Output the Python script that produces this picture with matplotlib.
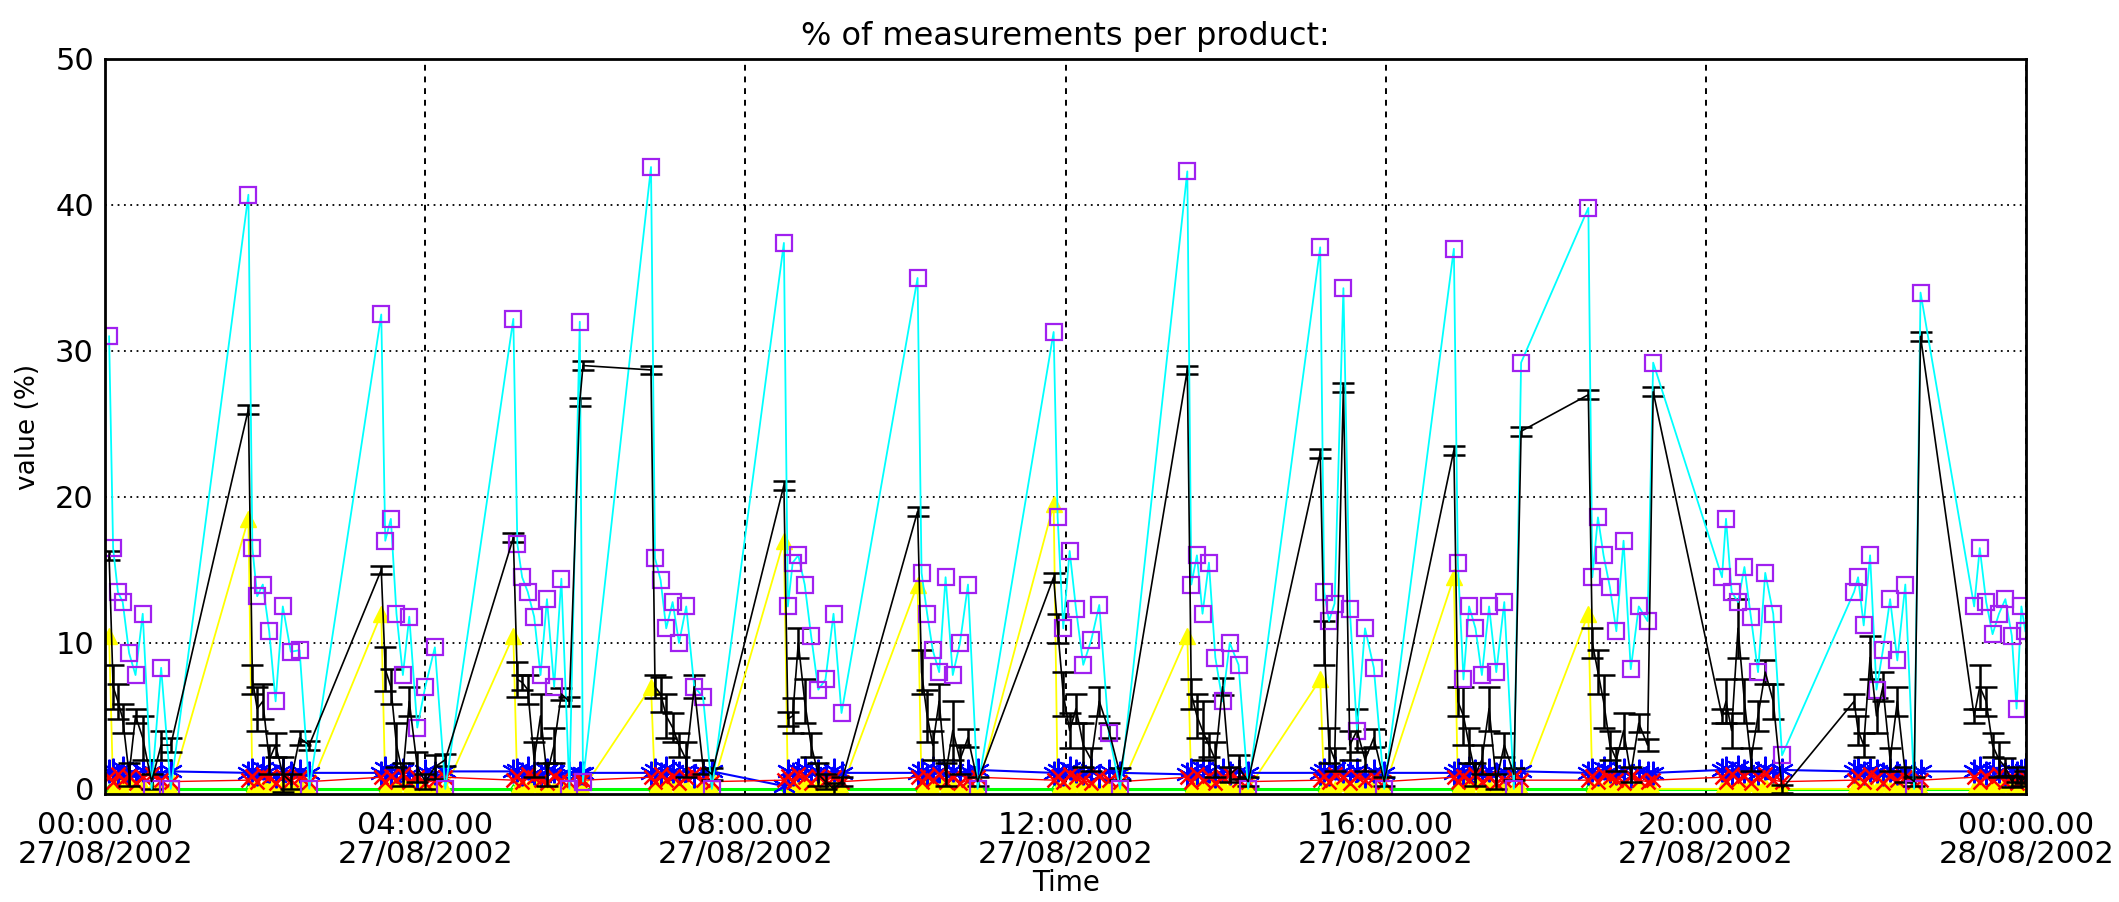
import matplotlib.pyplot as plt

# measurement times (hours after 00:00 27/08/2002), one burst of samples roughly every 100 min
hours = [
    0.05, 0.10, 0.16, 0.22, 0.30, 0.38, 0.47, 0.58, 0.70, 0.82,
    1.79, 1.84, 1.90, 1.97, 2.05, 2.13, 2.22, 2.32, 2.43, 2.55,
    3.45, 3.50, 3.57, 3.64, 3.72, 3.80, 3.90, 4.00, 4.12, 4.25,
    5.10, 5.15, 5.21, 5.28, 5.36, 5.44, 5.52, 5.61, 5.70, 5.80, 5.93, 5.97,
    6.82, 6.87, 6.94, 7.01, 7.09, 7.17, 7.26, 7.36, 7.47, 7.58,
    8.48, 8.53, 8.59, 8.66, 8.74, 8.82, 8.91, 9.00, 9.10, 9.20,
    10.15, 10.20, 10.27, 10.34, 10.42, 10.50, 10.59, 10.68, 10.78, 10.90,
    11.85, 11.90, 11.97, 12.05, 12.13, 12.22, 12.32, 12.42, 12.54, 12.68,
    13.52, 13.57, 13.64, 13.71, 13.79, 13.87, 13.96, 14.05, 14.16, 14.28,
    15.18, 15.23, 15.29, 15.36, 15.47, 15.55, 15.64, 15.74, 15.85, 15.98,
    16.85, 16.90, 16.97, 17.04, 17.12, 17.20, 17.29, 17.38, 17.48, 17.60, 17.69,
    18.53, 18.58, 18.65, 18.72, 18.80, 18.88, 18.97, 19.06, 19.16, 19.27, 19.34,
    20.20, 20.25, 20.32, 20.40, 20.48, 20.56, 20.65, 20.74, 20.84, 20.95,
    21.85, 21.90, 21.97, 22.05, 22.13, 22.21, 22.30, 22.39, 22.49, 22.60, 22.68,
    23.35, 23.42, 23.50, 23.58, 23.66, 23.74, 23.82, 23.88, 23.94, 23.99,
]

cyan = [
    31.0, 16.5, 13.5, 12.8, 9.3, 7.8, 12.0, 0.0, 8.3, 0.0,
    40.7, 16.5, 13.2, 14.0, 10.8, 6.0, 12.5, 9.4, 9.5, 0.0,
    32.5, 17.0, 18.5, 12.0, 7.8, 11.8, 4.2, 7.0, 9.7, 0.0,
    32.2, 16.8, 14.5, 13.5, 11.8, 7.8, 13.0, 7.0, 14.4, 0.0, 32.0, 0.5,
    42.6, 15.8, 14.3, 11.0, 12.8, 10.0, 12.5, 7.0, 6.3, 0.0,
    37.4, 12.5, 15.5, 16.0, 14.0, 10.5, 6.8, 7.5, 12.0, 5.2,
    35.0, 14.8, 12.0, 9.5, 8.0, 14.5, 7.8, 10.0, 14.0, 0.0,
    31.3, 18.6, 11.0, 16.3, 12.3, 8.5, 10.2, 12.6, 3.8, 0.0,
    42.3, 14.0, 16.0, 12.0, 15.5, 9.0, 6.0, 10.0, 8.5, 0.0,
    37.1, 13.5, 11.5, 12.7, 34.3, 12.3, 4.0, 11.0, 8.3, 0.0,
    37.0, 15.5, 7.5, 12.5, 11.0, 7.8, 12.5, 8.0, 12.8, 0.0, 29.2,
    39.8, 14.5, 18.6, 16.0, 13.8, 10.8, 17.0, 8.2, 12.5, 11.5, 29.2,
    14.5, 18.5, 13.5, 12.8, 15.2, 11.8, 8.0, 14.8, 12.0, 2.3,
    13.5, 14.5, 11.2, 16.0, 6.8, 9.5, 13.0, 8.8, 14.0, 0.0, 34.0,
    12.5, 16.5, 12.8, 10.6, 12.0, 13.0, 10.5, 5.5, 12.5, 10.8,
]

black = [
    16.0, 7.0, 6.0, 4.8, 1.0, 5.0, 3.5, 0.5, 3.0, 3.0,
    26.0, 7.5, 5.5, 6.0, 2.0, 3.0, 1.0, 0.5, 3.5, 3.0,
    15.0, 8.2, 7.0, 3.0, 1.0, 6.0, 1.5, 0.5, 1.5, 2.0,
    17.2, 7.5, 7.3, 6.8, 2.0, 5.0, 1.0, 3.0, 6.5, 6.0, 26.5, 29.0,
    28.7, 7.0, 6.5, 5.0, 4.2, 3.0, 2.0, 7.0, 1.5, 1.0,
    20.8, 4.8, 5.0, 10.0, 6.0, 3.0, 1.0, 0.5, 0.0, 0.5,
    19.0, 8.0, 5.0, 3.0, 6.0, 1.0, 4.0, 2.0, 3.5, 0.5,
    14.5, 11.0, 6.5, 4.0, 5.5, 3.0, 2.0, 6.0, 4.0, 1.0,
    28.7, 6.5, 5.0, 4.0, 3.0, 2.0, 7.0, 1.0, 1.5, 0.5,
    23.0, 10.0, 3.0, 2.0, 27.5, 3.0, 4.0, 2.0, 3.5, 0.5,
    23.2, 6.0, 5.0, 3.0, 1.0, 2.0, 5.5, 0.5, 3.0, 1.0, 24.5,
    27.0, 10.0, 8.0, 6.0, 3.0, 2.0, 4.0, 1.0, 4.5, 3.0, 27.2,
    5.0, 6.0, 4.0, 11.0, 6.0, 2.0, 5.0, 8.0, 6.0, 0.0,
    6.0, 4.0, 3.0, 9.0, 5.0, 7.0, 2.0, 6.0, 1.0, 0.5, 31.0,
    5.0, 7.0, 6.0, 3.0, 2.0, 1.5, 0.5, 1.0, 0.5, 0.8,
]

black_err = [
    0.3, 1.5, 1.2, 1.0, 0.8, 0.5, 1.5, 0.5, 1.0, 0.5,
    0.3, 1.0, 1.5, 1.2, 1.0, 0.8, 1.2, 0.5, 0.5, 0.3,
    0.3, 1.5, 1.2, 1.5, 0.8, 1.0, 1.0, 0.5, 0.8, 0.4,
    0.3, 1.2, 0.5, 1.0, 1.2, 1.5, 0.8, 1.2, 0.4, 0.3, 0.3, 0.3,
    0.3, 0.8, 1.2, 1.5, 1.0, 0.8, 1.2, 0.8, 0.5, 0.4,
    0.3, 0.5, 1.2, 1.0, 1.5, 0.8, 0.8, 0.5, 0.4, 0.3,
    0.3, 1.5, 1.8, 1.0, 1.2, 0.8, 2.0, 1.0, 0.6, 0.3,
    0.3, 1.0, 1.5, 1.2, 1.0, 1.5, 0.8, 1.0, 0.5, 0.4,
    0.3, 1.0, 1.5, 2.0, 0.8, 1.2, 0.6, 0.5, 0.8, 0.3,
    0.3, 1.5, 1.2, 0.8, 0.3, 1.0, 1.5, 0.8, 0.6, 0.3,
    0.3, 1.0, 2.0, 1.2, 0.8, 1.0, 1.5, 0.5, 0.8, 0.4, 0.3,
    0.3, 1.0, 1.5, 1.8, 1.0, 0.8, 1.2, 0.5, 0.6, 0.4, 0.3,
    0.5, 1.5, 1.2, 2.0, 1.5, 0.8, 1.0, 0.8, 1.2, 0.3,
    0.5, 1.0, 0.8, 1.5, 1.2, 1.0, 0.8, 1.0, 0.5, 0.3, 0.3,
    0.5, 1.5, 1.0, 0.8, 1.2, 0.6, 0.4, 0.5, 0.3, 0.4,
]

yellow = [
    10.5, 0.0, 0.3, 0.0, 0.5, 0.0, 0.2, 0.0, 0.3, 0.0,
    18.5, 0.0, 0.3, 0.0, 0.4, 0.0, 0.2, 0.0, 0.3, 0.0,
    12.0, 0.0, 0.2, 0.0, 0.5, 0.0, 0.3, 0.0, 0.2, 0.0,
    10.5, 0.0, 0.3, 0.0, 0.4, 0.0, 0.2, 0.0, 0.3, 0.0, 0.0, 0.0,
    7.0, 0.0, 0.3, 0.0, 0.5, 0.0, 0.2, 0.0, 0.3, 0.0,
    17.0, 0.0, 0.2, 0.0, 0.4, 0.0, 0.3, 0.0, 0.2, 0.0,
    14.0, 0.0, 0.3, 0.0, 0.5, 0.0, 0.2, 0.0, 0.3, 0.0,
    19.5, 0.0, 0.2, 0.0, 0.4, 0.0, 0.3, 0.0, 0.2, 0.0,
    10.5, 0.0, 0.3, 0.0, 0.5, 0.0, 0.2, 0.0, 0.3, 0.0,
    7.5, 0.0, 0.2, 0.0, 0.4, 0.0, 0.3, 0.0, 0.2, 0.0,
    14.5, 0.0, 0.3, 0.0, 0.5, 0.0, 0.2, 0.0, 0.3, 0.0, 0.0,
    12.0, 0.0, 0.2, 0.0, 0.4, 0.0, 0.3, 0.0, 0.2, 0.0, 0.0,
    0.0, 0.3, 0.0, 0.2, 0.0, 0.4, 0.0, 0.3, 0.0, 0.0,
    0.0, 0.3, 0.0, 0.2, 0.0, 0.4, 0.0, 0.3, 0.0, 0.0, 0.0,
    0.0, 0.3, 0.0, 0.2, 0.0, 0.4, 0.0, 0.3, 0.0, 0.2,
]

blue = [
    1.2, 1.3, 0.9, 1.4, 1.1, 1.0, 1.3, 1.2, 1.1, 1.2,
    1.1, 1.3, 1.0, 1.4, 1.2, 0.9, 1.3, 1.1, 1.2, 1.1,
    1.1, 1.4, 0.9, 1.2, 1.3, 1.0, 0.8, 1.2, 1.1, 1.2,
    1.2, 1.3, 1.0, 1.4, 1.1, 0.9, 1.3, 1.2, 1.0, 1.1, 1.1, 1.1,
    1.1, 1.3, 1.0, 1.4, 1.2, 1.1, 1.3, 0.9, 1.2, 1.2,
    0.2, 1.2, 1.0, 1.3, 1.4, 1.1, 1.2, 1.0, 1.3, 1.1,
    1.1, 1.3, 0.9, 1.4, 1.2, 1.0, 1.3, 1.1, 1.2, 1.3,
    1.1, 1.3, 1.0, 1.4, 1.2, 1.1, 1.3, 0.9, 1.2, 1.1,
    1.0, 1.3, 1.1, 1.4, 1.2, 0.9, 1.3, 1.1, 1.2, 1.1,
    1.1, 1.3, 1.0, 1.4, 1.2, 1.1, 1.3, 0.9, 1.2, 1.1,
    1.1, 1.3, 0.9, 1.4, 1.2, 1.1, 1.3, 1.0, 1.2, 1.1, 1.2,
    1.1, 1.3, 1.0, 1.4, 1.2, 1.1, 1.3, 0.9, 1.2, 1.1, 1.1,
    1.3, 1.4, 1.1, 1.5, 1.2, 1.3, 1.1, 1.4, 1.2, 1.3,
    1.2, 1.4, 1.1, 1.3, 1.2, 1.0, 1.3, 1.1, 1.2, 1.1, 1.2,
    1.2, 1.4, 1.1, 1.3, 1.2, 1.0, 1.3, 1.1, 1.2, 1.3,
]

red = [
    0.8, 0.5, 1.0, 0.6, 0.9, 0.4, 0.8, 1.0, 0.6, 0.5,
    0.6, 0.9, 0.5, 1.0, 0.8, 0.4, 0.9, 0.6, 0.8, 0.5,
    0.8, 0.5, 0.9, 0.6, 1.0, 0.5, 0.8, 0.4, 0.6, 0.8,
    0.6, 0.9, 0.5, 1.0, 0.8, 0.6, 0.4, 0.9, 0.6, 0.5, 0.6, 0.6,
    0.8, 0.5, 1.0, 0.6, 0.9, 0.4, 0.8, 1.0, 0.6, 0.5,
    0.6, 0.9, 0.5, 1.0, 0.8, 0.4, 0.9, 0.6, 0.8, 0.5,
    0.8, 0.5, 0.9, 0.6, 1.0, 0.5, 0.8, 0.4, 0.6, 0.8,
    0.6, 0.9, 0.5, 1.0, 0.8, 0.6, 0.4, 0.9, 0.6, 0.5,
    0.8, 0.5, 1.0, 0.6, 0.9, 0.4, 0.8, 1.0, 0.6, 0.5,
    0.6, 0.9, 0.5, 1.0, 0.8, 0.4, 0.9, 0.6, 0.8, 0.5,
    0.8, 0.5, 0.9, 0.6, 1.0, 0.5, 0.8, 0.4, 0.6, 0.8, 0.6,
    0.6, 0.9, 0.5, 1.0, 0.8, 0.6, 0.4, 0.9, 0.6, 0.5, 0.6,
    0.8, 0.5, 1.0, 0.6, 0.9, 0.4, 0.8, 1.0, 0.6, 0.5,
    0.6, 0.9, 0.5, 1.0, 0.8, 0.4, 0.9, 0.6, 0.8, 0.5, 0.6,
    0.8, 0.5, 0.9, 0.6, 1.0, 0.5, 0.8, 0.4, 0.6, 0.8,
]

# product that stays at 0 % all day (burst starts / ends only)
green_hours = [0.05, 0.82, 1.79, 2.55, 3.45, 4.25, 5.10, 5.97, 6.82, 7.58,
               8.48, 9.20, 10.15, 10.90, 11.85, 12.68, 13.52, 14.28, 15.18, 15.98,
               16.85, 17.69, 18.53, 19.34, 20.20, 20.95, 21.85, 22.68, 23.35, 23.99]
green = [0.0, 0.0, 0.0, 0.0, 0.0, 0.0, 0.0, 0.0, 0.0, 0.0,
         0.0, 0.0, 0.0, 0.0, 0.0, 0.0, 0.0, 0.0, 0.0, 0.0,
         0.0, 0.0, 0.0, 0.0, 0.0, 0.0, 0.0, 0.0, 0.0, 0.0]

tick_hours = [0, 4, 8, 12, 16, 20, 24]
tick_labels = ['00:00.00\n27/08/2002', '04:00.00\n27/08/2002', '08:00.00\n27/08/2002',
               '12:00.00\n27/08/2002', '16:00.00\n27/08/2002', '20:00.00\n27/08/2002',
               '00:00.00\n28/08/2002']

fig = plt.figure(figsize=(21.19, 9.02), dpi=100)
ax = fig.add_axes([0.0496, 0.1197, 0.9066, 0.8149])

ax.plot(green_hours, green, color='#00ff00', lw=2.2, marker='d', ms=5, mfc='none')
ax.plot(hours, yellow, color='#ffff00', lw=1.3, marker='^', ms=11)
ax.plot(hours, blue, color='#0000ff', lw=1.5, marker=(6, 2, 0), ms=17, mew=1.5)
ax.plot(hours, red, color='#ff0000', lw=1.0, marker='x', ms=10, mew=1.8)
ax.errorbar(hours, black, yerr=black_err, color='black', lw=1.2,
            elinewidth=1.8, capsize=8, capthick=1.8)
ax.plot(hours, cyan, color='#00ffff', lw=1.3, marker='s', ms=12,
        mfc='none', mec='#a020f0', mew=1.6)

ax.set_xlim(0, 24)
ax.set_ylim(-0.35, 50)
ax.set_xticks(tick_hours)
ax.set_xticklabels(tick_labels, linespacing=1.0)
ax.set_yticks([0, 10, 20, 30, 40, 50])
ax.grid(axis='x', color='black', ls=(0, (3, 3)), lw=1.4)
ax.grid(axis='y', color='black', ls=(0, (1, 2.5)), lw=1.3)
ax.set_axisbelow(True)
ax.tick_params(length=0, labelsize=22)
ax.tick_params(axis='x', pad=12)
ax.tick_params(axis='y', pad=8)
for s in ax.spines.values():
    s.set_linewidth(2)

ax.set_title('% of measurements per product:', fontsize=23, pad=10)
ax.set_xlabel('Time', fontsize=20, labelpad=0)
ax.set_ylabel('value (%)', fontsize=19, labelpad=10)

fig.savefig('out.png', dpi=100)
